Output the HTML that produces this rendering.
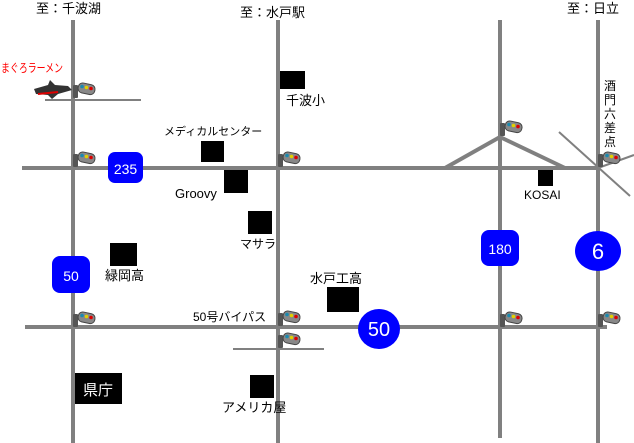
<!DOCTYPE html>
<html><head><meta charset="utf-8"><style>
html,body{margin:0;padding:0;background:#fff;}
svg{display:block;}
text{font-family:"Liberation Sans","Noto Sans CJK JP",sans-serif;}
</style></head><body>
<svg width="634" height="443" viewBox="0 0 634 443" xmlns="http://www.w3.org/2000/svg">
<defs>
<g id="tl">
<rect x="-5" y="-3" width="5" height="13" fill="#555" rx="1"/>
<rect x="0" y="-6" width="17" height="10" rx="4.5" fill="#888" stroke="#444" stroke-width="1" transform="rotate(12)"/>
<circle cx="4" cy="-1.5" r="1.8" fill="#1a8ab0"/>
<circle cx="8.5" cy="-0.5" r="1.8" fill="#e0d000"/>
<circle cx="13" cy="0.5" r="1.8" fill="#d00"/>
</g>
</defs>
<g stroke="#808080" stroke-width="4" fill="none">
<line x1="73" y1="20" x2="73" y2="443"/>
<line x1="278" y1="20" x2="278" y2="443"/>
<line x1="500" y1="20" x2="500" y2="438"/>
<line x1="598" y1="20" x2="598" y2="443"/>
<line x1="22" y1="168" x2="600" y2="168"/>
<line x1="25" y1="327" x2="607" y2="327"/>
<polyline points="445,168 500,137 565,168"/>
</g>
<g stroke="#808080" stroke-width="2" fill="none">
<line x1="45" y1="100" x2="141" y2="100"/>
<line x1="233" y1="349" x2="324" y2="349"/>
<line x1="559" y1="132" x2="630" y2="196"/>
<line x1="598" y1="168" x2="634" y2="155"/>
</g>
<g fill="#000">
<rect x="280" y="71" width="25" height="18"/>
<rect x="201" y="141" width="23" height="21"/>
<rect x="224" y="170" width="24" height="23"/>
<rect x="248" y="211" width="24" height="23"/>
<rect x="327" y="287" width="32" height="25"/>
<rect x="250" y="375" width="24" height="23"/>
<rect x="75" y="373" width="47" height="31"/>
<rect x="110" y="243" width="27" height="23"/>
<rect x="538" y="170" width="15" height="16"/>
</g>
<g fill="#0000ff">
<rect x="108" y="152" width="35" height="31" rx="7"/>
<rect x="52" y="256" width="38" height="37" rx="8"/>
<rect x="481" y="230" width="38" height="36" rx="8"/>
<ellipse cx="379" cy="329" rx="21" ry="20"/>
<ellipse cx="598" cy="251" rx="23" ry="20"/>
</g>
<g fill="#fff" text-anchor="middle">
<text x="125.5" y="174" font-size="14">235</text>
<text x="71" y="281" font-size="14">50</text>
<text x="500" y="254" font-size="14">180</text>
<text x="379" y="336" font-size="20">50</text>
<text x="598" y="259" font-size="22">6</text>
<text x="98" y="395" font-size="15">県庁</text>
</g>
<g font-size="13" fill="#000">
<text x="36" y="13">至：千波湖</text>
<text x="240" y="17">至：水戸駅</text>
<text x="567" y="13">至：日立</text>
<text x="286" y="105" font-size="13">千波小</text>
<text x="164" y="135" font-size="11">メディカルセンター</text>
<text x="175" y="198">Groovy</text>
<text x="240" y="248" font-size="12">マサラ</text>
<text x="310" y="283">水戸工高</text>
<text x="193" y="321" font-size="12">50号バイパス</text>
<text x="222" y="412">アメリカ屋</text>
<text x="105" y="280">緑岡高</text>
<text x="524" y="199" font-size="12">KOSAI</text>
<text x="604" y="90" font-size="12">酒</text>
<text x="604" y="104" font-size="12">門</text>
<text x="604" y="118" font-size="12">六</text>
<text x="604" y="132" font-size="12">差</text>
<text x="604" y="146" font-size="12">点</text>
</g>
<text x="1" y="72" font-size="12" fill="#f00" textLength="62" lengthAdjust="spacingAndGlyphs">まぐろラーメン</text>
<g>
<polygon points="34,89 48,85 50,80 55,85 68,86 72,90 58,94 52,99 48,95 36,94" fill="#333"/>
<line x1="38" y1="94" x2="58" y2="92" stroke="#d00" stroke-width="2"/>
</g>
<use href="#tl" x="78" y="88"/>
<use href="#tl" x="78" y="157"/>
<use href="#tl" x="283" y="157"/>
<use href="#tl" x="78" y="317"/>
<use href="#tl" x="283" y="316"/>
<use href="#tl" x="283" y="338"/>
<use href="#tl" x="505" y="126"/>
<use href="#tl" x="505" y="317"/>
<use href="#tl" x="603" y="157"/>
<use href="#tl" x="603" y="317"/>
</svg>
</body></html>
